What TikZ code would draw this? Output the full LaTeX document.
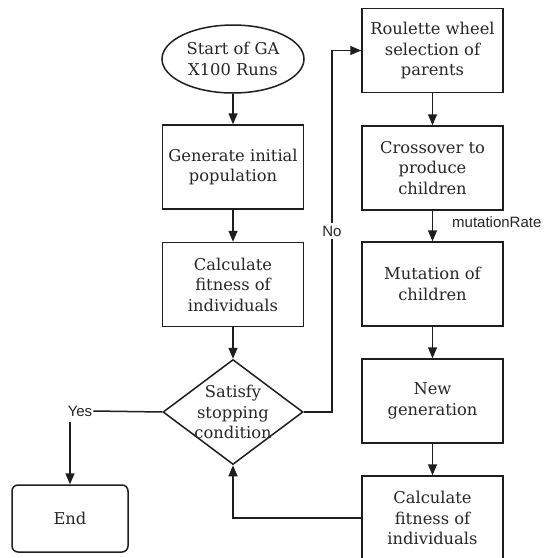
\documentclass[tikz,border=0pt]{standalone}
\usepackage{fontspec}
\setmainfont{DejaVu Serif}
\newfontfamily\labelfont{Liberation Sans}
\usetikzlibrary{shapes.geometric,arrows.meta}
\definecolor{ink}{HTML}{1E1E1E}
\definecolor{txt}{HTML}{262626}
\begin{document}
\begin{tikzpicture}[x=1pt,y=-1pt,
  mainfont/.style={font=\fontsize{16.3}{20.5}\selectfont},
  box/.style={draw=ink,line width=1.5pt,minimum width=141pt,minimum height=84pt,inner sep=1pt,align=center,text=txt,mainfont},
  startnode/.style={draw=ink,line width=1.5pt,ellipse,minimum width=142pt,minimum height=68pt,inner sep=0pt,align=center,text=txt,mainfont},
  decision/.style={draw=ink,line width=1.5pt,diamond,aspect=1.333,minimum width=140pt,minimum height=105pt,inner sep=0pt},
  plaintext/.style={inner sep=0pt,align=center,text=txt,mainfont},
  endbox/.style={draw=ink,line width=1.5pt,rounded corners=6pt,minimum width=116pt,minimum height=67pt,text=txt,mainfont},
  lbl/.style={text=txt,font=\labelfont\fontsize{15}{17}\selectfont,inner sep=1pt},
  conn/.style={draw=ink,line width=1.5pt},
  arr/.style={conn,-{Triangle[length=11pt,width=9pt]}}]
\useasboundingbox (0,0) rectangle (544,558);
\begin{scope}
\clip (0,0) rectangle (544,558);
\node[startnode] (start) at (233,59) {Start of GA\\X100 Runs};
\node[box] (gen) at (233,167) {Generate initial\\population};
\node[box] (calc1) at (233,284.5) {Calculate\\fitness of\\individuals};
\node[decision] (dec) at (233,412) {};
\node[plaintext] (dectext) at (233,412) {Satisfy\\stopping\\condition};
\node[endbox] (end) at (70,518.5) {End};
\node[lbl] (yes) at (80,411) {Yes};
\coordinate (ys) at (70,422);
\node[lbl,fill=white,inner sep=3pt] (no) at (332,231) {No};
\node[box] (roul) at (432.5,50.5) {Roulette wheel\\selection of\\parents};
\node[box] (cross) at (432.5,168) {Crossover to\\produce\\children};
\node[box] (mut) at (432.5,284) {Mutation of\\children};
\node[box] (newgen) at (432.5,401) {New\\generation};
\node[box] (calc2) at (432.5,518) {Calculate\\fitness of\\individuals};
\node[lbl,anchor=west] (mr) at (451,222) {mutationRate};

\draw[arr] (start) -- (gen);
\draw[arr] (gen) -- (calc1);
\draw[arr] (calc1) -- (dec);
\draw[conn] (dec.west) -- (yes.east);
\draw[arr] (ys) -- (ys |- end.north);
\draw[conn] (dec.east) -| (no.south);
\draw[arr] (no.north) |- (roul.west);
\draw[arr] (roul) -- (cross);
\draw[arr] (cross) -- (mut);
\draw[arr] (mut) -- (newgen);
\draw[arr] (newgen) -- (calc2);
\draw[arr] (calc2.west) -| (dec.south);
\end{scope}
\end{tikzpicture}
\end{document}
